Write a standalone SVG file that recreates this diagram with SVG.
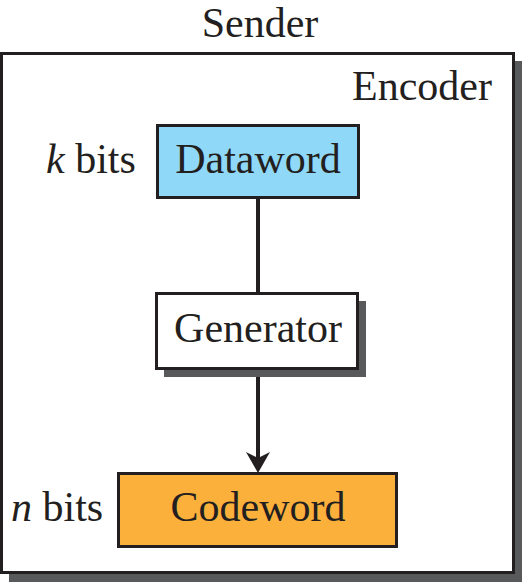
<svg xmlns="http://www.w3.org/2000/svg" width="526" height="583" viewBox="0 0 526 583">
<style>
text{font-family:"Liberation Serif","DejaVu Serif",serif;font-size:42px;fill:#231f20}
.box{stroke:#231f20;stroke-width:3}
.shadow{fill:#58595b}
.c{text-anchor:middle}
.conn{stroke:#231f20;stroke-width:4;fill:none}
</style>
<rect width="526" height="583" fill="#fff"/>
<text class="c" x="260" y="37" font-size="40" font-family="Liberation Serif, serif">Sender</text>
<g id="encoder">
<rect class="shadow" x="9" y="61" width="513" height="521"/>
<rect class="box" x="1.5" y="53.5" width="512" height="519" fill="#fff"/>
<text x="492" y="100" text-anchor="end">Encoder</text>
</g>
<g id="connectors">
<line class="conn" x1="258" y1="198" x2="258" y2="293"/>
<line class="conn" x1="258" y1="377" x2="258" y2="460"/>
<path d="M246,452 L258,458 L270,452 L258,473 Z" fill="#231f20"/>
</g>
<g id="dataword">
<rect class="box" x="157.5" y="125.5" width="201" height="72" fill="#8fd8f8"/>
<text class="c" x="258" y="173">Dataword</text>
<text x="46" y="173"><tspan font-style="italic">k</tspan> bits</text>
</g>
<g id="generator">
<rect class="shadow" x="164" y="301" width="202" height="76"/>
<rect class="box" x="156.5" y="293.5" width="201" height="75" fill="#fff"/>
<text class="c" x="258" y="342">Generator</text>
</g>
<g id="codeword">
<rect class="box" x="118.5" y="473.5" width="278" height="73" fill="#fbb03b"/>
<text class="c" x="258" y="521">Codeword</text>
<text x="11" y="521"><tspan font-style="italic">n</tspan> bits</text>
</g>
</svg>
